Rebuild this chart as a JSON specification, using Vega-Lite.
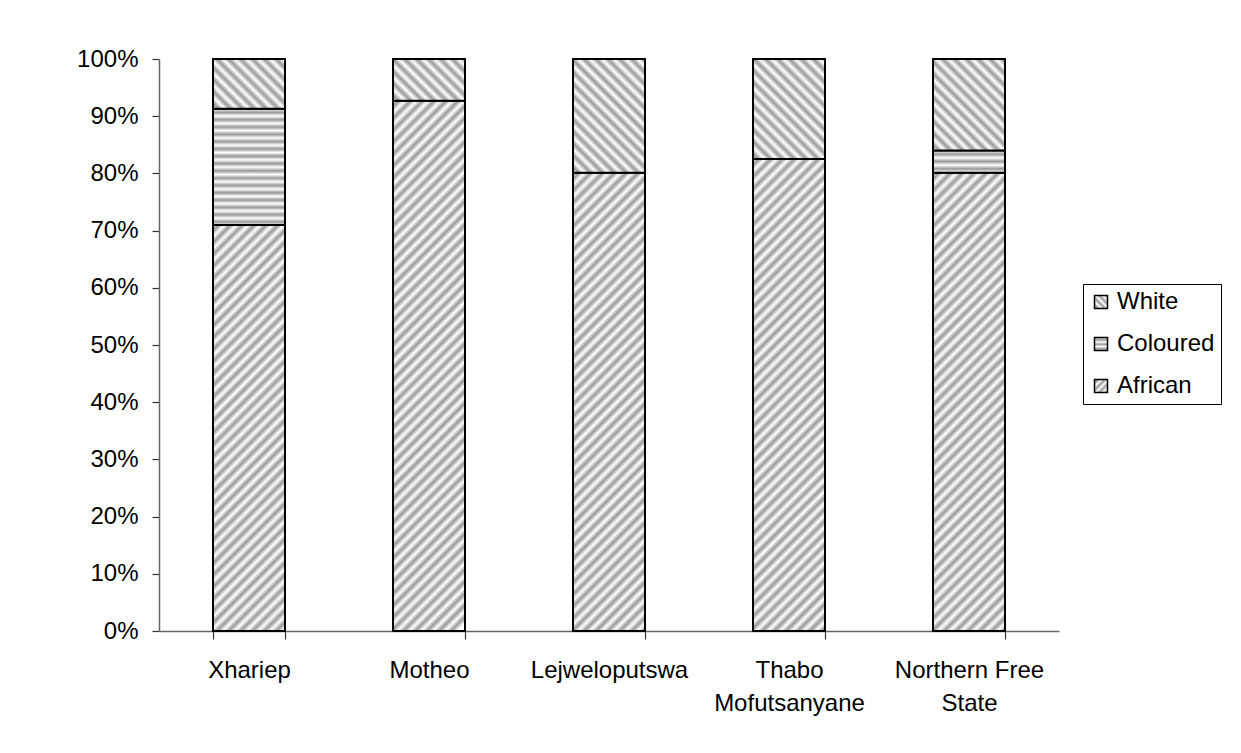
{
  "$schema": "https://vega.github.io/schema/vega-lite/v6.json",
  "width": 900,
  "height": 572,
  "autosize": {"type": "none"},
  "padding": {"left": 159, "top": 59, "right": 182, "bottom": 122},
  "background": "white",
  "params": [
    {"name": "stripes", "value": [
      {"offset":0,"color":"#fff"},{"offset":0.01,"color":"#999"},{"offset":0.02,"color":"#fff"},{"offset":0.03,"color":"#999"},{"offset":0.04,"color":"#fff"},{"offset":0.05,"color":"#999"},{"offset":0.06,"color":"#fff"},{"offset":0.07,"color":"#999"},{"offset":0.08,"color":"#fff"},{"offset":0.09,"color":"#999"},
      {"offset":0.1,"color":"#fff"},{"offset":0.11,"color":"#999"},{"offset":0.12,"color":"#fff"},{"offset":0.13,"color":"#999"},{"offset":0.14,"color":"#fff"},{"offset":0.15,"color":"#999"},{"offset":0.16,"color":"#fff"},{"offset":0.17,"color":"#999"},{"offset":0.18,"color":"#fff"},{"offset":0.19,"color":"#999"},
      {"offset":0.2,"color":"#fff"},{"offset":0.21,"color":"#999"},{"offset":0.22,"color":"#fff"},{"offset":0.23,"color":"#999"},{"offset":0.24,"color":"#fff"},{"offset":0.25,"color":"#999"},{"offset":0.26,"color":"#fff"},{"offset":0.27,"color":"#999"},{"offset":0.28,"color":"#fff"},{"offset":0.29,"color":"#999"},
      {"offset":0.3,"color":"#fff"},{"offset":0.31,"color":"#999"},{"offset":0.32,"color":"#fff"},{"offset":0.33,"color":"#999"},{"offset":0.34,"color":"#fff"},{"offset":0.35,"color":"#999"},{"offset":0.36,"color":"#fff"},{"offset":0.37,"color":"#999"},{"offset":0.38,"color":"#fff"},{"offset":0.39,"color":"#999"},
      {"offset":0.4,"color":"#fff"},{"offset":0.41,"color":"#999"},{"offset":0.42,"color":"#fff"},{"offset":0.43,"color":"#999"},{"offset":0.44,"color":"#fff"},{"offset":0.45,"color":"#999"},{"offset":0.46,"color":"#fff"},{"offset":0.47,"color":"#999"},{"offset":0.48,"color":"#fff"},{"offset":0.49,"color":"#999"},
      {"offset":0.5,"color":"#fff"},{"offset":0.51,"color":"#999"},{"offset":0.52,"color":"#fff"},{"offset":0.53,"color":"#999"},{"offset":0.54,"color":"#fff"},{"offset":0.55,"color":"#999"},{"offset":0.56,"color":"#fff"},{"offset":0.57,"color":"#999"},{"offset":0.58,"color":"#fff"},{"offset":0.59,"color":"#999"},
      {"offset":0.6,"color":"#fff"},{"offset":0.61,"color":"#999"},{"offset":0.62,"color":"#fff"},{"offset":0.63,"color":"#999"},{"offset":0.64,"color":"#fff"},{"offset":0.65,"color":"#999"},{"offset":0.66,"color":"#fff"},{"offset":0.67,"color":"#999"},{"offset":0.68,"color":"#fff"},{"offset":0.69,"color":"#999"},
      {"offset":0.7,"color":"#fff"},{"offset":0.71,"color":"#999"},{"offset":0.72,"color":"#fff"},{"offset":0.73,"color":"#999"},{"offset":0.74,"color":"#fff"},{"offset":0.75,"color":"#999"},{"offset":0.76,"color":"#fff"},{"offset":0.77,"color":"#999"},{"offset":0.78,"color":"#fff"},{"offset":0.79,"color":"#999"},
      {"offset":0.8,"color":"#fff"},{"offset":0.81,"color":"#999"},{"offset":0.82,"color":"#fff"},{"offset":0.83,"color":"#999"},{"offset":0.84,"color":"#fff"},{"offset":0.85,"color":"#999"},{"offset":0.86,"color":"#fff"},{"offset":0.87,"color":"#999"},{"offset":0.88,"color":"#fff"},{"offset":0.89,"color":"#999"},
      {"offset":0.9,"color":"#fff"},{"offset":0.91,"color":"#999"},{"offset":0.92,"color":"#fff"},{"offset":0.93,"color":"#999"},{"offset":0.94,"color":"#fff"},{"offset":0.95,"color":"#999"},{"offset":0.96,"color":"#fff"},{"offset":0.97,"color":"#999"},{"offset":0.98,"color":"#fff"},{"offset":0.99,"color":"#999"},
      {"offset":1,"color":"#fff"}
    ]}
  ],
  "data": {"values": [
    {"district": "Xhariep", "race": "African", "pct": 71.0},
    {"district": "Xhariep", "race": "Coloured", "pct": 20.3},
    {"district": "Xhariep", "race": "White", "pct": 8.7},
    {"district": "Motheo", "race": "African", "pct": 92.7},
    {"district": "Motheo", "race": "White", "pct": 7.3},
    {"district": "Lejweloputswa", "race": "African", "pct": 80.1},
    {"district": "Lejweloputswa", "race": "White", "pct": 19.9},
    {"district": "Thabo Mofutsanyane", "race": "African", "pct": 82.5},
    {"district": "Thabo Mofutsanyane", "race": "White", "pct": 17.5},
    {"district": "Northern Free State", "race": "African", "pct": 80.1},
    {"district": "Northern Free State", "race": "Coloured", "pct": 3.9},
    {"district": "Northern Free State", "race": "White", "pct": 16.0}
  ]},
  "transform": [
    {"stack": "pct", "groupby": ["district"], "sort": [{"field": "race", "order": "ascending"}], "as": ["p0", "p1"]}
  ],
  "encoding": {
    "x": {
      "field": "district", "type": "nominal",
      "sort": ["Xhariep", "Motheo", "Lejweloputswa", "Thabo Mofutsanyane", "Northern Free State"],
      "scale": {"paddingInner": 0.6, "paddingOuter": 0.3},
      "axis": {
        "title": null, "labelAngle": 0, "tickBand": "extent", "tickSize": 8,
        "labelPadding": 38, "labelBaseline": "alphabetic", "labelLineHeight": 33, "labelLimit": 300,
        "labelExpr": "datum.label == 'Thabo Mofutsanyane' ? ['Thabo', 'Mofutsanyane'] : datum.label == 'Northern Free State' ? ['Northern Free', 'State'] : datum.label"
      }
    },
    "y": {
      "field": "p1", "type": "quantitative",
      "scale": {"domain": [0, 100], "nice": false},
      "axis": {
        "title": null, "values": [0, 10, 20, 30, 40, 50, 60, 70, 80, 90, 100],
        "labelExpr": "datum.value + '%'", "grid": false, "tickSize": 7, "labelPadding": 14
      }
    },
    "y2": {"field": "p0"}
  },
  "layer": [
    {
      "mark": {"type": "bar"},
      "encoding": {
        "color": {
          "field": "race", "type": "nominal",
          "sort": ["White", "Coloured", "African"],
          "scale": {"range": [
            {"expr": "{gradient: 'linear', x1: 0, y1: 1, x2: 13.6, y2: -12.6, stops: stripes}"},
            {"expr": "{gradient: 'linear', x1: 0, y1: 0, x2: 0.0001, y2: 17.3, stops: stripes}"},
            {"expr": "{gradient: 'linear', x1: 0, y1: 0, x2: 13.6, y2: 13.6, stops: stripes}"}
          ]},
          "legend": {
            "title": null, "orient": "none", "legendX": 924, "legendY": 225,
            "symbolType": "square", "symbolSize": 169, "symbolStrokeColor": "black", "symbolStrokeWidth": 1.5,
            "rowPadding": 18, "labelOffset": 4, "padding": 6,
            "strokeColor": "black"
          }
        }
      }
    },
    {
      "mark": {"type": "bar", "stroke": "black", "strokeWidth": 2},
      "encoding": {
        "fill": {"value": {"expr": "datum.race == 'Coloured' ? {gradient: 'linear', x1: 0, y1: 0, x2: 0.0001, y2: 365/((datum.p1-datum.p0)*5.72), stops: stripes} : datum.race == 'White' ? {gradient: 'linear', x1: 0, y1: 1, x2: 72*594/(5184+pow((datum.p1-datum.p0)*5.72,2)), y2: 1-(datum.p1-datum.p0)*5.72*594/(5184+pow((datum.p1-datum.p0)*5.72,2)), stops: stripes} : {gradient: 'linear', x1: 0, y1: 0, x2: 72*594/(5184+pow((datum.p1-datum.p0)*5.72,2)), y2: (datum.p1-datum.p0)*5.72*594/(5184+pow((datum.p1-datum.p0)*5.72,2)), stops: stripes}"}}
      }
    }
  ],
  "config": {
    "view": {"stroke": null},
    "font": "Liberation Sans",
    "axis": {
      "labelFont": "Liberation Sans", "labelFontSize": 24, "labelColor": "black",
      "domainColor": "#666666", "tickColor": "#333333", "domainWidth": 1.5, "tickWidth": 1.2
    },
    "legend": {
      "labelFont": "Liberation Sans", "labelFontSize": 24, "labelColor": "black"
    }
  }
}
